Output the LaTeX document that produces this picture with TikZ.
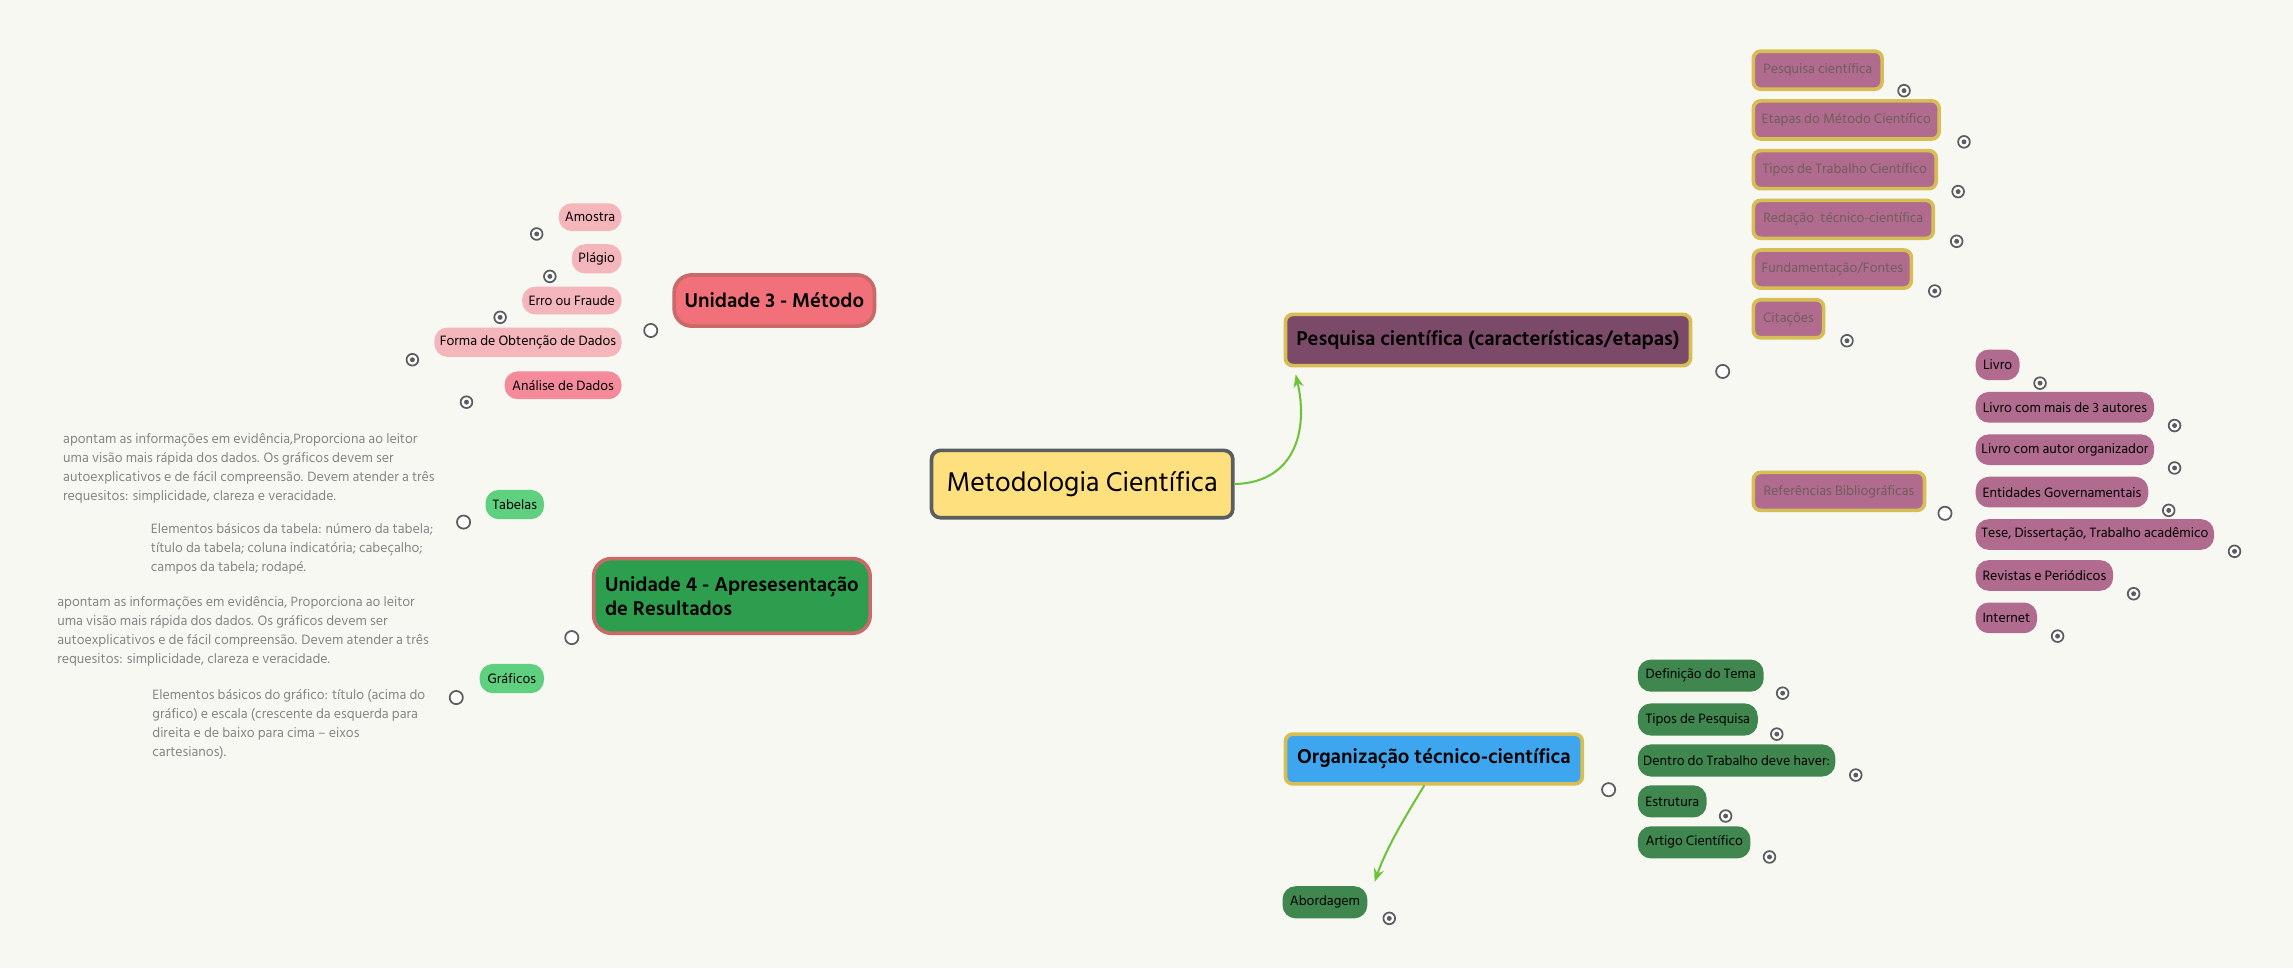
\documentclass[tikz,border=0pt]{standalone}
\usepackage{fontspec}
\setmainfont{Hind Siliguri}
\usetikzlibrary{backgrounds,arrows.meta}
\definecolor{bgc}{HTML}{F8F8F3}
\definecolor{linec}{HTML}{5A5E60}
\definecolor{cenf}{HTML}{FFE07F}
\definecolor{u3f}{HTML}{F27079}
\definecolor{u3b}{HTML}{C86A6A}
\definecolor{pinkc}{HTML}{F4B5BB}
\definecolor{pinkd}{HTML}{F48A9A}
\definecolor{u4f}{HTML}{2D9D4E}
\definecolor{pqf}{HTML}{7B4A68}
\definecolor{goldc}{HTML}{D6BE55}
\definecolor{purc}{HTML}{B06B8E}
\definecolor{purt}{HTML}{6E5F5A}
\definecolor{orgf}{HTML}{3DA6EE}
\definecolor{dgreen}{HTML}{3F874F}
\definecolor{lgreen}{HTML}{5ED07F}
\definecolor{arrg}{HTML}{6CC43A}
\definecolor{notec}{HTML}{858585}
\newcommand{\bx}[7][]{\node[#1, minimum width={(#5-#3)*1pt}, minimum height={(#6-#4)*1pt}] (#2) at ({(#3+#5)/2},{(#4+#6)/2}) {#7};}
\newcommand{\dt}[3]{\node[enddot] (#1) at (#2,#3) {};}
\newcommand{\hb}[3]{\node[hub] (#1) at (#2,#3) {};}
\tikzset{
 base/.style={inner sep=0pt, align=center, font=\fontsize{9.5}{11}\selectfont},
 pill/.style={base, rounded corners=9pt},
 pinkb/.style={pill, fill=pinkc},
 purb/.style={base, rounded corners=5pt, fill=purc, draw=goldc, line width=2.5pt, text=purt},
 purp/.style={pill, fill=purc},
 dgb/.style={pill, fill=dgreen},
 lgb/.style={pill, fill=lgreen},
 conn/.style={draw=linec, line width=1.4pt},
 garr/.style={draw=arrg, line width=1.4pt},
 enddot/.style={circle, draw=linec, line width=1.2pt, fill=white, minimum size=8pt, inner sep=0pt,
   path picture={\fill[linec] (path picture bounding box.center) circle (1.7pt);}},
 hub/.style={circle, draw=linec, line width=1.2pt, fill=white, minimum size=9pt, inner sep=0pt},
 note/.style={anchor=north west, align=left, text=notec, inner sep=0pt, font=\fontsize{9.5}{13}\selectfont},
}
\begin{document}
\begin{tikzpicture}[x=1pt,y=-1pt]
\fill[bgc] (0,0) rectangle (1568,662);
\useasboundingbox (0,0) rectangle (1568,662);
% central
\bx[base, rounded corners=6pt, fill=cenf, draw=linec, line width=2.5pt, font=\fontsize{19}{22}\selectfont]{cen}{637}{308}{843}{354}{Metodologia Científica}
% Unidade 3
\bx[base, rounded corners=12pt, fill=u3f, draw=u3b, line width=2.5pt, font=\fontsize{14}{16}\bfseries]{u3}{461}{188}{598}{223}{Unidade 3 - Método}
\bx[pinkb]{am}{382}{139}{425}{158}{Amostra}
\bx[pinkb]{pl}{391}{167}{425}{187}{Plágio}
\bx[pinkb]{ef}{357}{196}{425}{215}{Erro ou Fraude}
\bx[pinkb]{fo}{297}{224}{425}{244}{Forma de Obtenção de Dados}
\bx[pill, fill=pinkd]{ad}{345}{254}{425}{273}{Análise de Dados}
\hb{h3}{445}{226}
\dt{dam}{367}{160}\dt{dpl}{376}{189}\dt{def}{342}{217}\dt{dfo}{282}{246}\dt{dad}{319}{275}
% Unidade 4
\bx[base, rounded corners=12pt, fill=u4f, draw=u3b, line width=2.5pt, align=left, font=\fontsize{14}{16}\bfseries]{u4}{406}{382}{595}{433}{Unidade 4 - Apresesentação\\de Resultados}
\hb{h4}{391}{436}
\bx[lgb]{tab}{332}{335}{372}{355}{Tabelas}
\bx[lgb]{gra}{328}{454}{372}{474}{Gráficos}
\hb{ht}{317}{357}
\hb{hg}{312}{477}
\coordinate (t1) at (37,350);\coordinate (t2) at (124,424);
\coordinate (g1) at (34,462);\coordinate (g2) at (126,522);
\node[note] (n1) at (43,296) {apontam as informações em evidência,Proporciona ao leitor\\uma visão mais rápida dos dados. Os gráficos devem ser\\autoexplicativos e de fácil compreensão. Devem atender a três\\requesitos: simplicidade, clareza e veracidade.};
\node[note] (n2) at (103,358) {Elementos básicos da tabela: número da tabela;\\título da tabela; coluna indicatória; cabeçalho;\\campos da tabela; rodapé.};
\node[note] (n3) at (39,408) {apontam as informações em evidência, Proporciona ao leitor\\uma visão mais rápida dos dados. Os gráficos devem ser\\autoexplicativos e de fácil compreensão. Devem atender a três\\requesitos: simplicidade, clareza e veracidade.};
\node[note] (n4) at (104,471) {Elementos básicos do gráfico: título (acima do\\gráfico) e escala (crescente da esquerda para\\direita e de baixo para cima – eixos\\cartesianos).};
% Pesquisa
\bx[base, rounded corners=5pt, fill=pqf, draw=goldc, line width=2.5pt, font=\fontsize{14}{16}\bfseries]{pq}{879}{215}{1156}{250}{Pesquisa científica (características/etapas)}
\hb{hp}{1178}{254}
\bx[purb]{p1}{1199}{35}{1287}{61}{Pesquisa científica}
\bx[purb]{p2}{1199}{69}{1326}{95}{Etapas do Método Científico}
\bx[purb]{p3}{1199}{103}{1324}{129}{Tipos de Trabalho Científico}
\bx[purb]{p4}{1199}{137}{1322}{163}{Redação\ \ técnico-científica}
\bx[purb]{p5}{1199}{171}{1307}{197}{Fundamentação/Fontes}
\bx[purb]{p6}{1199}{205}{1247}{231}{Citações}
\bx[purb]{p7}{1199}{323}{1316}{349}{Referências Bibliográficas}
\dt{dp1}{1302}{62}\dt{dp2}{1343}{97}\dt{dp3}{1339}{131}\dt{dp4}{1338}{165}\dt{dp5}{1323}{199}\dt{dp6}{1263}{233}
\hb{hr}{1330}{351}
\bx[purp]{r1}{1351}{239}{1381}{260}{Livro}
\bx[purp]{r2}{1351}{268}{1473}{289}{Livro com mais de 3 autores}
\bx[purp]{r3}{1351}{297}{1473}{318}{Livro com autor organizador}
\bx[purp]{r4}{1351}{326}{1469}{347}{Entidades Governamentais}
\bx[purp]{r5}{1351}{355}{1514}{376}{Tese, Dissertação, Trabalho acadêmico}
\bx[purp]{r6}{1351}{383}{1445}{404}{Revistas e Periódicos}
\bx[purp]{r7}{1351}{412}{1393}{433}{Internet}
\dt{dr1}{1395}{262}\dt{dr2}{1487}{291}\dt{dr3}{1487}{320}\dt{dr4}{1483}{349}\dt{dr5}{1528}{377}\dt{dr6}{1459}{406}\dt{dr7}{1407}{435}
% Organizacao
\bx[base, rounded corners=5pt, fill=orgf, draw=goldc, line width=2.5pt, font=\fontsize{14}{16}\bfseries]{org}{879}{502}{1082}{536}{Organização técnico-científica}
\hb{ho}{1100}{540}
\bx[dgb]{o1}{1120}{451}{1206}{473}{Definição do Tema}
\bx[dgb]{o2}{1120}{481}{1202}{503}{Tipos de Pesquisa}
\bx[dgb]{o3}{1120}{509}{1255}{531}{Dentro do Trabalho deve haver:}
\bx[dgb]{o4}{1120}{537}{1167}{559}{Estrutura}
\bx[dgb]{o5}{1120}{565}{1197}{587}{Artigo Científico}
\dt{do1}{1219}{474}\dt{do2}{1215}{502}\dt{do3}{1269}{530}\dt{do4}{1180}{558}\dt{do5}{1210}{586}
\bx[dgb]{ab}{877}{606}{935}{628}{Abordagem}
\dt{dab}{950}{628}
\coordinate (abl) at (877,628);
\begin{scope}[on background layer]
\fill[bgc] (0,0) rectangle (1568,662);
% main branches
\draw[conn] (730,308) .. controls (712,268) and (680,230) .. (600,226) -- (h3);
\draw[conn] (727,354) .. controls (705,410) and (670,436) .. (595,436) -- (h4);
\draw[conn] (757,308) .. controls (785,265) and (825,253) .. (880,253) -- (hp);
\draw[conn] (745,354) .. controls (765,460) and (800,540) .. (880,540) -- (ho);
% Unidade 3 children
\foreach \y/\d in {160/dam,189/dpl,217/def,246/dfo,275/dad}{
 \draw[conn] (h3) .. controls (440,\y) and (438,\y) .. (425,\y) -- (\d);}
% Unidade 4
\draw[conn] (h4) .. controls (386,357) and (384,357) .. (372,357) -- (ht);
\draw[conn] (h4) .. controls (386,476) and (384,476) .. (372,476) -- (hg);
\draw[conn] (ht) .. controls (312,350) and (308,350) .. (298,350) -- (t1);
\draw[conn] (ht) .. controls (310,410) and (310,424) .. (296,424) -- (t2);
\draw[conn] (hg) .. controls (307,462) and (303,462) .. (295,462) -- (g1);
\draw[conn] (hg) .. controls (305,510) and (307,522) .. (294,522) -- (g2);
% Pesquisa children
\foreach \y/\d in {62/dp1,97/dp2,131/dp3,165/dp4,199/dp5,233/dp6}{
 \draw[conn] (hp) .. controls (1183,\y) and (1185,\y) .. (1199,\y) -- (\d);}
\draw[conn] (hp) .. controls (1183,351) and (1186,351) .. (1199,351) -- (hr);
\foreach \y/\d in {262/dr1,291/dr2,320/dr3,349/dr4,377/dr5,406/dr6,435/dr7}{
 \draw[conn] (hr) .. controls (1335,\y) and (1337,\y) .. (1351,\y) -- (\d);}
% Org children
\foreach \y/\d in {474/do1,502/do2,530/do3,558/do4,586/do5}{
 \draw[conn] (ho) .. controls (1105,\y) and (1107,\y) .. (1120,\y) -- (\d);}
\draw[conn] (abl) -- (dab);
% green links
\draw[garr] (org.north) ++(25,0) .. controls (1045,478) and (1080,466) .. (o1.west);
\end{scope}
\draw[garr, -{Stealth[length=9pt,width=7pt]}] (cen.east) .. controls (885,330) and (895,295) .. (886,256);
\draw[garr, -{Stealth[length=9pt,width=7pt]}] (974,537) .. controls (960,560) and (948,580) .. (940,603);
\end{tikzpicture}
\end{document}
